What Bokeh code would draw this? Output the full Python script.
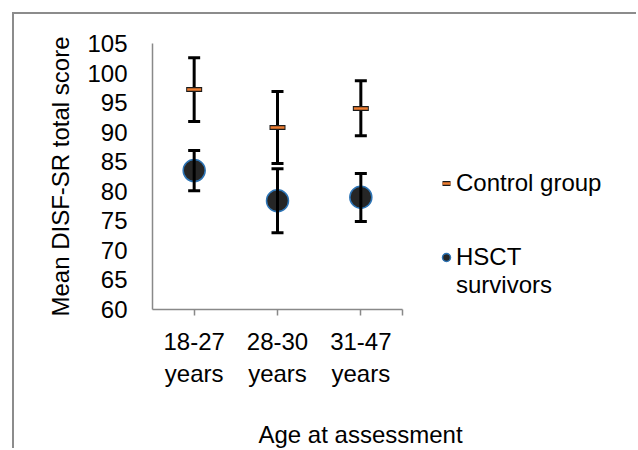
from bokeh.plotting import figure
from bokeh.models import (Range1d, FixedTicker, Title, Legend, LegendItem,
                          ColumnDataSource)
from bokeh.embed import file_html
from bokeh.resources import INLINE

# ---- data ----
categories = ["18-27\nyears", "28-30\nyears", "31-47\nyears"]
x_pos = [0.5, 1.5, 2.5]
control_mean = [97.2, 90.8, 94.0]
control_low = [91.8, 84.7, 89.4]
control_high = [102.6, 96.9, 98.7]
hsct_mean = [83.5, 78.4, 79.0]
hsct_low = [80.1, 73.0, 74.9]
hsct_high = [86.9, 83.8, 83.0]
y_ticks = [60, 65, 70, 75, 80, 85, 90, 95, 100, 105]

FONT = "Liberation Sans"
FS = "24px"
AXIS_GRAY = "#898989"

ctrl = ColumnDataSource(dict(x=x_pos, mean=control_mean, lo=control_low, hi=control_high))
hsct = ColumnDataSource(dict(x=x_pos, mean=hsct_mean, lo=hsct_low, hi=hsct_high))

# the frame runs to the right edge so that the legend can sit inside it;
# the category axis itself only spans 0..3 (250 px of the 486 px frame)
p = figure(width=624, height=436, output_backend="svg", toolbar_location=None,
           x_range=Range1d(0, 3 * 486 / 250), y_range=Range1d(60, 105),
           min_border_left=138, min_border_right=0, min_border_top=29,
           min_border_bottom=141)
p.margin = (12, 0, 0, 12)
p.styles = {"border-top": "2px solid #8c8c8c", "border-left": "2px solid #8c8c8c"}
p.outline_line_color = None
p.grid.visible = False
p.background_fill_color = "white"
p.border_fill_color = "white"

# x axis
xa = p.xaxis[0]
xa.bounds = (0, 3)
xa.ticker = FixedTicker(ticks=x_pos + [3])
overrides = {x: c for x, c in zip(x_pos, categories)}
overrides[3] = ""
xa.major_label_overrides = overrides
xa.axis_line_color = AXIS_GRAY
xa.axis_line_width = 1.5
xa.major_tick_line_color = AXIS_GRAY
xa.major_tick_line_width = 1.5
xa.major_tick_out = 6
xa.major_tick_in = 0
xa.minor_tick_line_color = None
xa.major_label_text_font = FONT
xa.major_label_text_font_size = FS
xa.major_label_text_color = "black"
xa.major_label_standoff = 12

# y axis
ya = p.yaxis[0]
ya.ticker = FixedTicker(ticks=y_ticks)
ya.axis_line_color = AXIS_GRAY
ya.axis_line_width = 1.5
ya.major_tick_out = 0
ya.major_tick_in = 0
ya.minor_tick_line_color = None
ya.major_label_text_font = FONT
ya.major_label_text_font_size = FS
ya.major_label_text_color = "black"
ya.major_label_standoff = 25
ya.axis_label = "Mean DISF-SR total score"
ya.axis_label_text_font = FONT
ya.axis_label_text_font_size = FS
ya.axis_label_text_font_style = "normal"
ya.axis_label_text_color = "black"
ya.axis_label_standoff = 10

# HSCT survivors
hsct_r = p.scatter("x", "mean", source=hsct, marker="circle", size=22,
                   fill_color="#262626", line_color="#2E75B6", line_width=1.5)
p.segment(x0="x", y0="lo", x1="x", y1="hi", source=hsct, line_color="black", line_width=3)
p.scatter("x", "lo", source=hsct, marker="dash", size=12, line_color="black", line_width=3)
p.scatter("x", "hi", source=hsct, marker="dash", size=12, line_color="black", line_width=3)

# Control group
p.segment(x0="x", y0="lo", x1="x", y1="hi", source=ctrl, line_color="black", line_width=3)
p.scatter("x", "lo", source=ctrl, marker="dash", size=12, line_color="black", line_width=3)
p.scatter("x", "hi", source=ctrl, marker="dash", size=12, line_color="black", line_width=3)
ctrl_out = p.scatter("x", "mean", source=ctrl, marker="dash", size=16,
                     line_color="#1a1a1a", line_width=5)
ctrl_in = p.scatter("x", "mean", source=ctrl, marker="dash", size=14,
                    line_color="#ED7D31", line_width=2.5)

# invisible placeholder so that the second legend line has no glyph
blank_r = p.scatter(x=[], y=[], marker="circle", fill_alpha=0, line_alpha=0)

legend_style = dict(orientation="vertical", label_text_font=FONT, label_text_font_size=FS,
                    label_text_color="black", glyph_width=20, glyph_height=20,
                    label_standoff=0, padding=0, spacing=0, margin=0,
                    border_line_color=None, background_fill_alpha=0)

legend_a = Legend(items=[LegendItem(label="Control group", renderers=[ctrl_out, ctrl_in])],
                  location=(284, 112), **legend_style)
legend_b = Legend(items=[LegendItem(label="HSCT", renderers=[hsct_r]),
                         LegendItem(label="survivors", renderers=[blank_r])],
                  location=(284, 10), **legend_style)
p.add_layout(legend_a)
p.add_layout(legend_b)

p.add_layout(Title(text="\nAge at assessment", align="left", offset=106, standoff=4,
                   text_font=FONT, text_font_size=FS, text_font_style="normal",
                   text_color="black"), "below")

open("out.html", "w").write(file_html(p, INLINE))
